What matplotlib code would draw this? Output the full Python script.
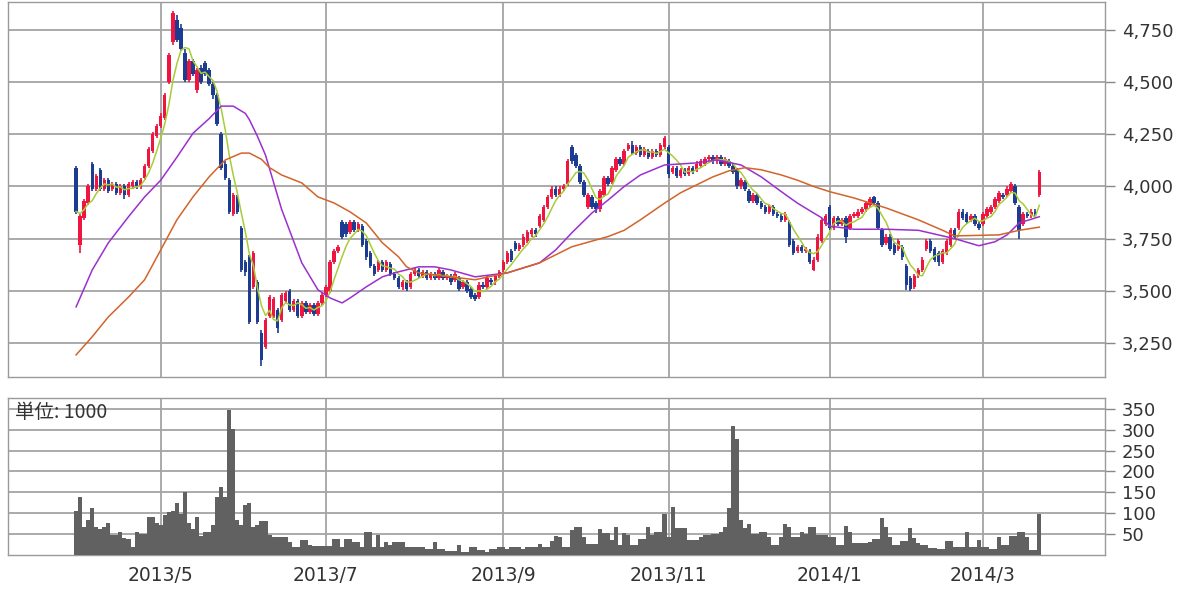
import numpy as np
import pandas as pd
import matplotlib
matplotlib.use('Agg')
import matplotlib.pyplot as plt
from matplotlib.ticker import FuncFormatter

# daily candles, 2013/4/1 .. 2014/3 (trading days)
opens = [
    4090, 3720, 3850, 3920, 4110, 3990, 4080, 3990, 4030, 3990, 4010, 3970, 4000, 3960, 4000, 4020, 4000, 4040, 4100, 4170,
    4240, 4290, 4330, 4500, 4690, 4800, 4760, 4640, 4510, 4600, 4460, 4570, 4590, 4560, 4490, 4440, 4250, 4110, 4030, 3870,
    3950, 3800, 3640, 3660, 3520, 3540, 3300, 3230, 3380, 3380, 3410, 3360, 3450, 3500, 3410, 3450, 3380, 3440, 3400, 3430,
    3390, 3440, 3480, 3500, 3640, 3690, 3830, 3820, 3780, 3830, 3790, 3810, 3740, 3680, 3620, 3600, 3640, 3600, 3630, 3580,
    3560, 3520, 3540, 3520, 3580, 3600, 3570, 3590, 3560, 3580, 3560, 3590, 3560, 3570, 3550, 3560, 3520, 3540, 3510, 3480,
    3470, 3530, 3520, 3550, 3540, 3570, 3600, 3640, 3690, 3730, 3700, 3720, 3740, 3770, 3790, 3810, 3840, 3900, 3950, 3990,
    3960, 3990, 4010, 4190, 4150, 4100, 4020, 3900, 3950, 3920, 3890, 3960, 4040, 4020, 4080, 4130, 4110, 4180, 4200, 4160,
    4190, 4150, 4170, 4140, 4170, 4150, 4190, 4190, 4070, 4090, 4050, 4080, 4060, 4090, 4080, 4100, 4110, 4130, 4140, 4120,
    4140, 4110, 4120, 4100, 4080, 4000, 4020, 3980, 3930, 3960, 3920, 3900, 3880, 3900, 3870, 3860, 3840, 3830, 3740, 3690,
    3710, 3690, 3690, 3600, 3650, 3740, 3820, 3900, 3800, 3850, 3820, 3850, 3800, 3860, 3860, 3880, 3890, 3910, 3950, 3920,
    3790, 3730, 3760, 3720, 3700, 3710, 3620, 3560, 3520, 3570, 3600, 3700, 3740, 3700, 3680, 3640, 3680, 3720, 3790, 3800,
    3880, 3870, 3840, 3860, 3820, 3820, 3860, 3880, 3900, 3930, 3960, 3960, 3980, 4000, 3900, 3820, 3870, 3860, 3880, 3960,
]
closes = [
    3880, 3860, 3930, 4000, 3990, 4050, 3990, 4030, 3980, 4010, 3970, 4000, 3960, 4010, 4020, 4000, 4030, 4100, 4180, 4250,
    4290, 4340, 4440, 4630, 4830, 4700, 4660, 4510, 4600, 4540, 4560, 4500, 4540, 4490, 4440, 4300, 4090, 4040, 3880, 3960,
    3880, 3600, 3590, 3350, 3680, 3350, 3170, 3360, 3470, 3460, 3320, 3480, 3490, 3410, 3450, 3380, 3440, 3400, 3430, 3390,
    3440, 3480, 3520, 3640, 3690, 3710, 3760, 3770, 3830, 3790, 3820, 3720, 3660, 3620, 3580, 3640, 3600, 3640, 3580, 3560,
    3520, 3540, 3510, 3580, 3600, 3570, 3590, 3560, 3580, 3560, 3600, 3560, 3570, 3540, 3580, 3510, 3540, 3500, 3470, 3460,
    3530, 3520, 3560, 3540, 3570, 3590, 3640, 3680, 3650, 3700, 3720, 3760, 3780, 3790, 3770, 3860, 3900, 3950, 3990, 3960,
    3990, 4000, 4120, 4120, 4100, 4020, 3960, 3960, 3900, 3890, 3980, 4040, 4010, 4090, 4130, 4110, 4170, 4200, 4160, 4190,
    4150, 4180, 4140, 4170, 4150, 4200, 4230, 4060, 4090, 4050, 4080, 4060, 4090, 4070, 4110, 4120, 4130, 4140, 4120, 4140,
    4110, 4130, 4100, 4070, 4000, 4030, 3990, 3930, 3960, 3920, 3900, 3880, 3900, 3870, 3860, 3840, 3870, 3720, 3680, 3710,
    3690, 3700, 3640, 3650, 3760, 3840, 3860, 3800, 3850, 3820, 3840, 3760, 3860, 3870, 3880, 3890, 3920, 3940, 3920, 3800,
    3720, 3760, 3700, 3680, 3740, 3660, 3530, 3510, 3570, 3600, 3650, 3740, 3690, 3650, 3640, 3690, 3740, 3790, 3760, 3880,
    3850, 3830, 3860, 3820, 3800, 3870, 3890, 3900, 3940, 3970, 3950, 3990, 4010, 3920, 3790, 3870, 3860, 3880, 3870, 4070,
]
highs = [
    4100, 3870, 3940, 4010, 4115, 4060, 4090, 4040, 4040, 4020, 4020, 4010, 4010, 4020, 4030, 4030, 4040, 4110, 4190, 4260,
    4300, 4350, 4450, 4640, 4840, 4820, 4780, 4660, 4610, 4610, 4570, 4580, 4600, 4570, 4500, 4450, 4260, 4120, 4040, 3970,
    3960, 3810, 3650, 3670, 3690, 3550, 3310, 3370, 3480, 3470, 3420, 3490, 3500, 3510, 3460, 3460, 3450, 3450, 3440, 3440,
    3450, 3490, 3530, 3650, 3700, 3720, 3840, 3830, 3840, 3840, 3830, 3820, 3750, 3690, 3630, 3650, 3650, 3650, 3640, 3590,
    3570, 3550, 3550, 3590, 3610, 3610, 3600, 3600, 3590, 3590, 3610, 3600, 3580, 3580, 3590, 3570, 3550, 3550, 3520, 3490,
    3540, 3540, 3570, 3560, 3580, 3600, 3650, 3690, 3700, 3740, 3730, 3770, 3790, 3800, 3800, 3870, 3910, 3960, 4000, 4000,
    4000, 4010, 4130, 4200, 4160, 4110, 4030, 3970, 3960, 3930, 3990, 4050, 4050, 4100, 4140, 4140, 4180, 4210, 4220, 4200,
    4200, 4190, 4180, 4180, 4180, 4210, 4240, 4200, 4100, 4100, 4090, 4090, 4100, 4100, 4120, 4130, 4140, 4150, 4150, 4150,
    4150, 4140, 4130, 4110, 4090, 4040, 4030, 3990, 3970, 3970, 3930, 3910, 3910, 3910, 3880, 3870, 3880, 3840, 3750, 3720,
    3720, 3710, 3700, 3660, 3770, 3850, 3870, 3910, 3860, 3860, 3850, 3860, 3870, 3880, 3890, 3900, 3930, 3950, 3955, 3930,
    3800, 3770, 3770, 3730, 3750, 3720, 3630, 3570, 3580, 3610, 3660, 3750, 3750, 3710, 3690, 3700, 3750, 3800, 3800, 3890,
    3890, 3880, 3870, 3870, 3830, 3880, 3900, 3910, 3950, 3980, 3970, 4000, 4020, 4010, 3910, 3880, 3880, 3890, 3890, 4080,
]
lows = [
    3870, 3680, 3840, 3910, 3980, 3980, 3980, 3980, 3970, 3980, 3960, 3960, 3940, 3950, 3990, 3990, 3990, 4030, 4090, 4160,
    4230, 4280, 4320, 4490, 4680, 4690, 4650, 4500, 4500, 4530, 4450, 4490, 4530, 4480, 4420, 4290, 4080, 4030, 3870, 3860,
    3870, 3590, 3570, 3340, 3510, 3340, 3140, 3220, 3370, 3370, 3300, 3350, 3440, 3400, 3400, 3370, 3370, 3390, 3390, 3380,
    3380, 3430, 3470, 3490, 3630, 3680, 3750, 3760, 3770, 3780, 3780, 3710, 3650, 3610, 3570, 3590, 3590, 3590, 3570, 3550,
    3510, 3505, 3500, 3510, 3570, 3560, 3560, 3550, 3550, 3550, 3550, 3550, 3550, 3530, 3540, 3500, 3510, 3490, 3460, 3450,
    3460, 3510, 3510, 3530, 3530, 3560, 3590, 3630, 3640, 3690, 3690, 3710, 3730, 3760, 3760, 3800, 3830, 3890, 3940, 3950,
    3950, 3980, 4000, 4110, 4090, 4010, 3950, 3890, 3890, 3875, 3880, 3950, 4000, 4010, 4070, 4100, 4100, 4170, 4150, 4150,
    4140, 4140, 4130, 4130, 4140, 4140, 4180, 4040, 4060, 4040, 4040, 4050, 4050, 4060, 4070, 4090, 4100, 4120, 4110, 4110,
    4100, 4100, 4090, 4060, 3990, 3990, 3980, 3920, 3920, 3910, 3890, 3870, 3870, 3860, 3850, 3830, 3830, 3710, 3670, 3680,
    3680, 3680, 3630, 3595, 3640, 3730, 3810, 3790, 3790, 3810, 3810, 3730, 3790, 3850, 3850, 3870, 3880, 3900, 3910, 3790,
    3710, 3720, 3690, 3670, 3690, 3650, 3505, 3500, 3510, 3560, 3590, 3690, 3680, 3640, 3620, 3630, 3670, 3710, 3750, 3790,
    3840, 3820, 3830, 3810, 3790, 3810, 3850, 3870, 3890, 3920, 3940, 3950, 3970, 3910, 3750, 3810, 3850, 3850, 3860, 3950,
]
# volume, unit 1000 shares
volumes = [
    106, 139, 67, 83, 113, 67, 62, 67, 76, 48, 48, 56, 40, 38, 20, 54, 50, 50, 92, 92,
    76, 72, 96, 102, 106, 124, 98, 150, 76, 62, 90, 46, 54, 54, 72, 139, 163, 139, 348, 302,
    83, 72, 120, 124, 68, 72, 82, 82, 48, 44, 44, 44, 44, 32, 20, 20, 36, 36, 24, 22,
    22, 22, 22, 22, 38, 38, 20, 38, 38, 32, 32, 20, 56, 56, 20, 48, 20, 30, 24, 30,
    30, 30, 20, 20, 20, 20, 20, 14, 14, 30, 14, 14, 10, 10, 10, 24, 6, 6, 18, 18,
    12, 12, 6, 14, 14, 18, 18, 14, 18, 18, 18, 14, 20, 20, 20, 26, 20, 20, 34, 46,
    44, 20, 20, 60, 68, 68, 44, 26, 26, 26, 62, 52, 52, 36, 68, 24, 52, 48, 24, 24,
    38, 38, 68, 48, 56, 56, 98, 44, 114, 64, 64, 64, 36, 36, 36, 44, 48, 48, 50, 50,
    56, 68, 112, 309, 278, 84, 64, 74, 50, 50, 56, 56, 44, 24, 24, 44, 74, 68, 44, 44,
    54, 50, 68, 68, 48, 48, 48, 44, 44, 24, 24, 70, 54, 28, 28, 28, 28, 30, 38, 38,
    88, 68, 44, 24, 24, 34, 34, 64, 40, 28, 24, 24, 16, 16, 14, 14, 34, 34, 18, 18,
    18, 54, 20, 20, 36, 20, 20, 14, 14, 44, 24, 24, 46, 46, 56, 56, 44, 12, 12, 98,
]

# 25-day and 75-day moving averages (trading-day number, price)
ma25_day = [0, 4, 8, 13, 17, 21, 25, 29, 33, 36, 39, 42, 43, 45, 47, 51, 56, 60, 63, 66, 68, 72, 76, 80, 85, 89,
            93, 99, 107, 115, 119, 123, 128, 132, 136, 140, 146, 154, 159, 165, 170, 175, 179, 183, 185, 187,
            193, 201, 209, 218, 224, 228, 231, 234, 239]
ma25_val = [3423, 3600, 3730, 3855, 3950, 4030, 4140, 4255, 4325, 4385, 4385, 4350, 4320, 4240, 4150, 3890, 3634,
            3505, 3466, 3442, 3466, 3519, 3567, 3591, 3615, 3615, 3600, 3567, 3586, 3634, 3696, 3778, 3873,
            3935, 4000, 4055, 4103, 4113, 4127, 4103, 4046, 3975, 3920, 3873, 3850, 3810, 3795, 3795, 3790,
            3750, 3716, 3735, 3768, 3825, 3855]
ma75_day = [0, 4, 8, 13, 17, 21, 25, 29, 33, 37, 41, 43, 46, 48, 51, 56, 60, 64, 68, 72, 76, 80, 82, 85, 93,
            99, 107, 115, 123, 132, 136, 140, 146, 150, 154, 158, 162, 166, 170, 175, 179, 183, 187, 193, 201,
            209, 215, 218, 229, 234, 239]
ma75_val = [3193, 3280, 3375, 3470, 3553, 3696, 3840, 3950, 4046, 4127, 4160, 4160, 4130, 4090, 4055, 4017,
            3950, 3921, 3878, 3825, 3730, 3663, 3615, 3586, 3567, 3553, 3586, 3634, 3711, 3760, 3790, 3840,
            3920, 3970, 4008, 4046, 4075, 4090, 4080, 4055, 4030, 4000, 3975, 3945, 3897, 3840, 3790, 3763,
            3768, 3790, 3805]

price_ticks = [3250, 3500, 3750, 4000, 4250, 4500, 4750]
volume_ticks = [50, 100, 150, 200, 250, 300, 350]
jp_holidays = ['2013-04-29', '2013-05-03', '2013-05-06', '2013-07-15', '2013-09-16', '2013-09-23',
               '2013-10-14', '2013-11-04', '2013-12-23', '2013-12-31', '2014-01-01', '2014-01-02',
               '2014-01-03', '2014-01-13', '2014-02-11', '2014-03-21']

dates = pd.bdate_range('2013-04-01', periods=len(closes), freq='C', holidays=jp_holidays)
x = np.arange(len(closes))
o = np.array(opens)
c = np.array(closes)
up = c >= o
ma5 = pd.Series(closes).rolling(5, min_periods=1).mean()

# odd months get a label (2013/5, 2013/7, ...)
month_pos = [i for i in range(1, len(dates))
             if dates[i].month != dates[i - 1].month and dates[i].month % 2 == 1]
month_lab = [f"{dates[i].year}/{dates[i].month}" for i in month_pos]

red = '#ee1640'
blue = '#1c3c92'
grid_col = '#a4a4a4'
spine_col = '#9a9a9a'

fig = plt.figure(figsize=(12, 6), dpi=100)
ax = fig.add_axes([8 / 1200, 1 - 377 / 600, 1097 / 1200, 375 / 600])
axv = fig.add_axes([8 / 1200, 1 - 555 / 600, 1097 / 1200, 157 / 600])

# candles
ax.vlines(x, lows, highs, colors=np.where(up, red, blue), lw=1.2, zorder=3)
ax.bar(x, np.maximum(np.abs(c - o), 8), bottom=np.minimum(o, c), width=0.85,
       color=np.where(up, red, blue), linewidth=0, zorder=3)

# moving averages
ax.plot(x, ma5, color='#a8cc38', lw=1.1, zorder=4)
ax.plot(ma25_day, ma25_val, color='#9b30d0', lw=1.1, zorder=4)
ax.plot(ma75_day, ma75_val, color='#d2642a', lw=1.1, zorder=4)

# volume
axv.bar(x, volumes, width=1.0, color='#616161', linewidth=0, zorder=3)

xlim = (-16.9, 255.3)
for a in (ax, axv):
    a.set_xlim(*xlim)
    a.set_xticks(month_pos)
    a.grid(True, color=grid_col, lw=1.3)
    a.set_axisbelow(True)
    a.yaxis.tick_right()
    a.tick_params(axis='y', length=7, width=1, color='#888888', pad=5,
                  labelsize=13, labelcolor='#333333')
    a.tick_params(axis='x', length=0)
    for s in a.spines.values():
        s.set_color(spine_col)
        s.set_linewidth(1)

ax.set_ylim(3087, 4884)
ax.set_yticks(price_ticks)
ax.yaxis.set_major_formatter(FuncFormatter(lambda v, p: f"{int(v):,}"))
ax.set_xticklabels([])

axv.set_ylim(0, 376)
axv.set_yticks(volume_ticks)
axv.set_xticklabels(month_lab, fontsize=13.5, color='#333333')
axv.tick_params(axis='x', pad=8)
axv.text(0.006, 0.975, '単位: 1000', transform=axv.transAxes, ha='left', va='top',
         fontsize=14, color='#333333', family=['Noto Sans CJK JP', 'DejaVu Sans'], zorder=5)

fig.savefig('out.png', dpi=100, facecolor='white')
